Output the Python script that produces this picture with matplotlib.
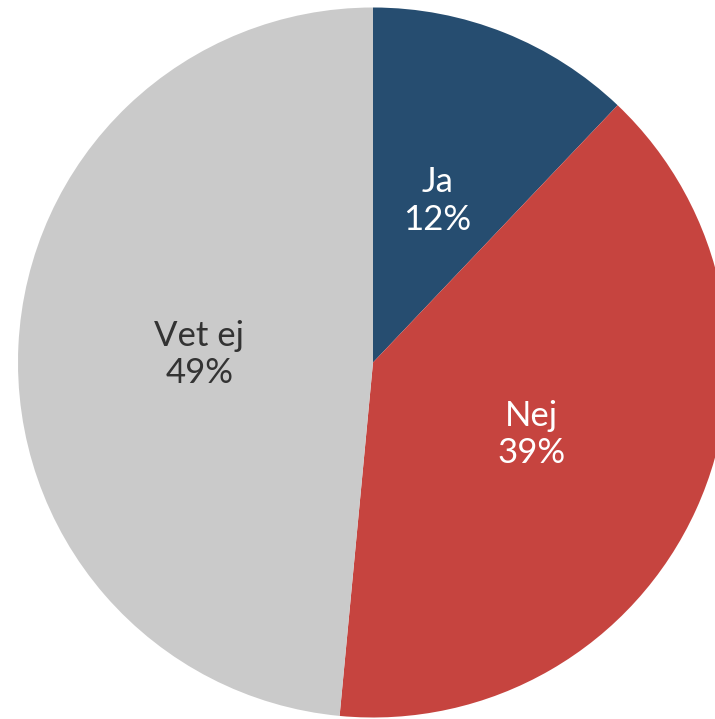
import matplotlib.pyplot as plt

# data
labels = ["Ja", "Nej", "Vet ej"]
values = [12.1, 39.4, 48.5]
pct_labels = ["12%", "39%", "49%"]
colors = ["#264d70", "#c6443f", "#cacaca"]
text_colors = ["white", "white", "#333333"]

W, H = 715, 719
cx, cy, r = 373, 362.5, 355

fig = plt.figure(figsize=(W / 100, H / 100), dpi=100)
ax = fig.add_axes([0, 0, 1, 1])

wedges, texts = ax.pie(values, colors=colors, startangle=90, counterclock=False,
                       radius=1, labels=[f"{l}\n{p}" for l, p in zip(labels, pct_labels)],
                       labeldistance=0.49, wedgeprops=dict(linewidth=0),
                       textprops=dict(fontsize=25, family=["Lato", "DejaVu Sans"],
                                      ha="center", va="center", linespacing=1.2))
for t, c in zip(texts, text_colors):
    t.set_color(c)
    t.set_horizontalalignment("center")

ax.set_aspect("auto")
ax.set_xlim(-cx / r, (W - cx) / r)
ax.set_ylim(-(H - cy) / r, cy / r)
ax.axis("off")

fig.savefig("out.png", dpi=100)
